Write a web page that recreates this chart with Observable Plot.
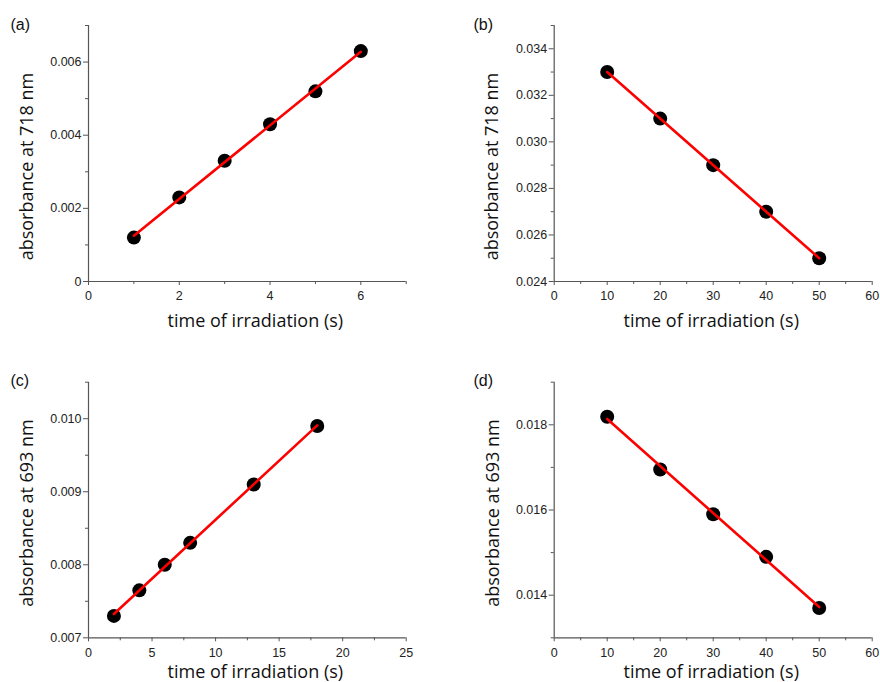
<!DOCTYPE html>
<html><head><meta charset="utf-8">
<script src="https://cdn.jsdelivr.net/npm/d3@7"></script>
<script src="https://cdn.jsdelivr.net/npm/@observablehq/plot@0.6"></script>
<style>
body{margin:0;background:#fff;}
#wrap{position:relative;width:880px;height:682px;overflow:hidden;}
#wrap svg{position:absolute;overflow:visible;}
</style></head><body><div id="wrap"></div>
<script>
// ---- data ----
const timeA = [1, 2, 3, 4, 5, 6];
const absA  = [0.0012, 0.0023, 0.0033, 0.0043, 0.0052, 0.0063];
const timeB = [10, 20, 30, 40, 50];
const absB  = [0.033, 0.031, 0.029, 0.027, 0.025];
const timeC = [2, 4, 6, 8, 13, 18];
const absC  = [0.0073, 0.00765, 0.0080, 0.0083, 0.0091, 0.0099];
const timeD = [10, 20, 30, 40, 50];
const absD  = [0.01819, 0.01695, 0.0159, 0.0149, 0.0137];

const panelLetters = ["(a)", "(b)", "(c)", "(d)"];
const yTitles = ["absorbance at 718 nm", "absorbance at 718 nm", "absorbance at 693 nm", "absorbance at 693 nm"];
const xTitle = "time of irradiation (s)";

const xDomains = [[0, 7], [0, 60], [0, 25], [0, 60]];
const yDomains = [[0, 0.007], [0.024, 0.035], [0.007, 0.0105], [0.013, 0.019]];
const xMajorTicks = [[0, 2, 4, 6], [0, 10, 20, 30, 40, 50, 60], [0, 5, 10, 15, 20, 25], [0, 10, 20, 30, 40, 50, 60]];
const xMinorTicks = [[1, 3, 5, 7], [5, 15, 25, 35, 45, 55], [2.5, 7.5, 12.5, 17.5, 22.5], [5, 15, 25, 35, 45, 55]];
const yMajorTicks = [[0, 0.002, 0.004, 0.006], [0.024, 0.026, 0.028, 0.030, 0.032, 0.034], [0.007, 0.008, 0.009, 0.010], [0.014, 0.016, 0.018]];
const yMinorTicks = [[0.001, 0.003, 0.005, 0.007], [0.025, 0.027, 0.029, 0.031, 0.033, 0.035], [0.0075, 0.0085, 0.0095, 0.0105], [0.013, 0.015, 0.017, 0.019]];

const series = [[timeA, absA], [timeB, absB], [timeC, absC], [timeD, absD]];

// ---- layout (positions only) ----
const layout = [
  {left: 0,   top: 0,   w: 440, h: 340, mL: 88,    mR: 34.3, mT: 25,   mB: 59,   letter: [-78, -0.5],  yt: [-61, 13], xt: [8, 40]},
  {left: 440, top: 0,   w: 440, h: 340, mL: 113.7, mR: 8.3,  mT: 25,   mB: 59,   letter: [-80.7, -0.5], yt: [-62, 13], xt: [-2, 40]},
  {left: 0,   top: 340, w: 440, h: 342, mL: 88,    mR: 34.3, mT: 41.7, mB: 44.7, letter: [-78, -1.2],  yt: [-61, 3],  xt: [8, 34.5]},
  {left: 440, top: 340, w: 440, h: 342, mL: 113.7, mR: 8.3,  mT: 41.7, mB: 44.7, letter: [-80.7, -1.2], yt: [-60.7, 3], xt: [-2, 34.5]}
];

const fmt = d => d === 0 ? "0" : d.toFixed(3);
const axisColor = "#555";
const wrap = document.getElementById("wrap");

layout.forEach((L, i) => {
  const [xs, ys] = series[i];
  const data = xs.map((x, k) => ({time: x, abs: ys[k]}));
  const svg = Plot.plot({
    width: L.w, height: L.h,
    marginLeft: L.mL, marginRight: L.mR, marginTop: L.mT, marginBottom: L.mB,
    style: {fontFamily: "'Liberation Sans', Arial, sans-serif", fontSize: "12.5px", color: "#222", background: "transparent", overflow: "visible"},
    x: {domain: xDomains[i], label: null},
    y: {domain: yDomains[i], label: null},
    marks: [
      Plot.ruleX([xDomains[i][0]], {stroke: axisColor, strokeWidth: 1.2}),
      Plot.ruleY([yDomains[i][0]], {stroke: axisColor, strokeWidth: 1.2}),
      Plot.axisX(xMajorTicks[i], {tickSize: 4, tickPadding: 6, stroke: axisColor, tickFormat: d => String(d), label: null}),
      Plot.axisX(xMinorTicks[i], {tickSize: 3, stroke: axisColor, tickFormat: () => "", label: null}),
      Plot.axisY(yMajorTicks[i], {tickSize: 5, tickPadding: 2, stroke: axisColor, tickFormat: fmt, label: null}),
      Plot.axisY(yMinorTicks[i], {tickSize: 3, stroke: axisColor, tickFormat: () => "", label: null}),
      Plot.dot(data, {x: "time", y: "abs", r: 7, fill: "black", stroke: "none"}),
      Plot.linearRegressionY(data, {x: "time", y: "abs", stroke: "#ff0000", strokeWidth: 2.6, ci: 0}),
      Plot.text([panelLetters[i]], {frameAnchor: "top-left", textAnchor: "start", lineAnchor: "middle", dx: L.letter[0], dy: L.letter[1], fontSize: 16, fill: "#111"}),
      Plot.text([yTitles[i]], {frameAnchor: "left", textAnchor: "middle", lineAnchor: "middle", rotate: -90, dx: L.yt[0], dy: L.yt[1], fontSize: 18, fontFamily: "'Open Sans', sans-serif", fill: "#111"}),
      Plot.text([xTitle], {frameAnchor: "bottom", textAnchor: "middle", lineAnchor: "middle", dx: L.xt[0], dy: L.xt[1], fontSize: 18, fontFamily: "'Open Sans', sans-serif", fill: "#111"})
    ]
  });
  svg.style.left = L.left + "px";
  svg.style.top = L.top + "px";
  wrap.appendChild(svg);
});
</script>
</body></html>
